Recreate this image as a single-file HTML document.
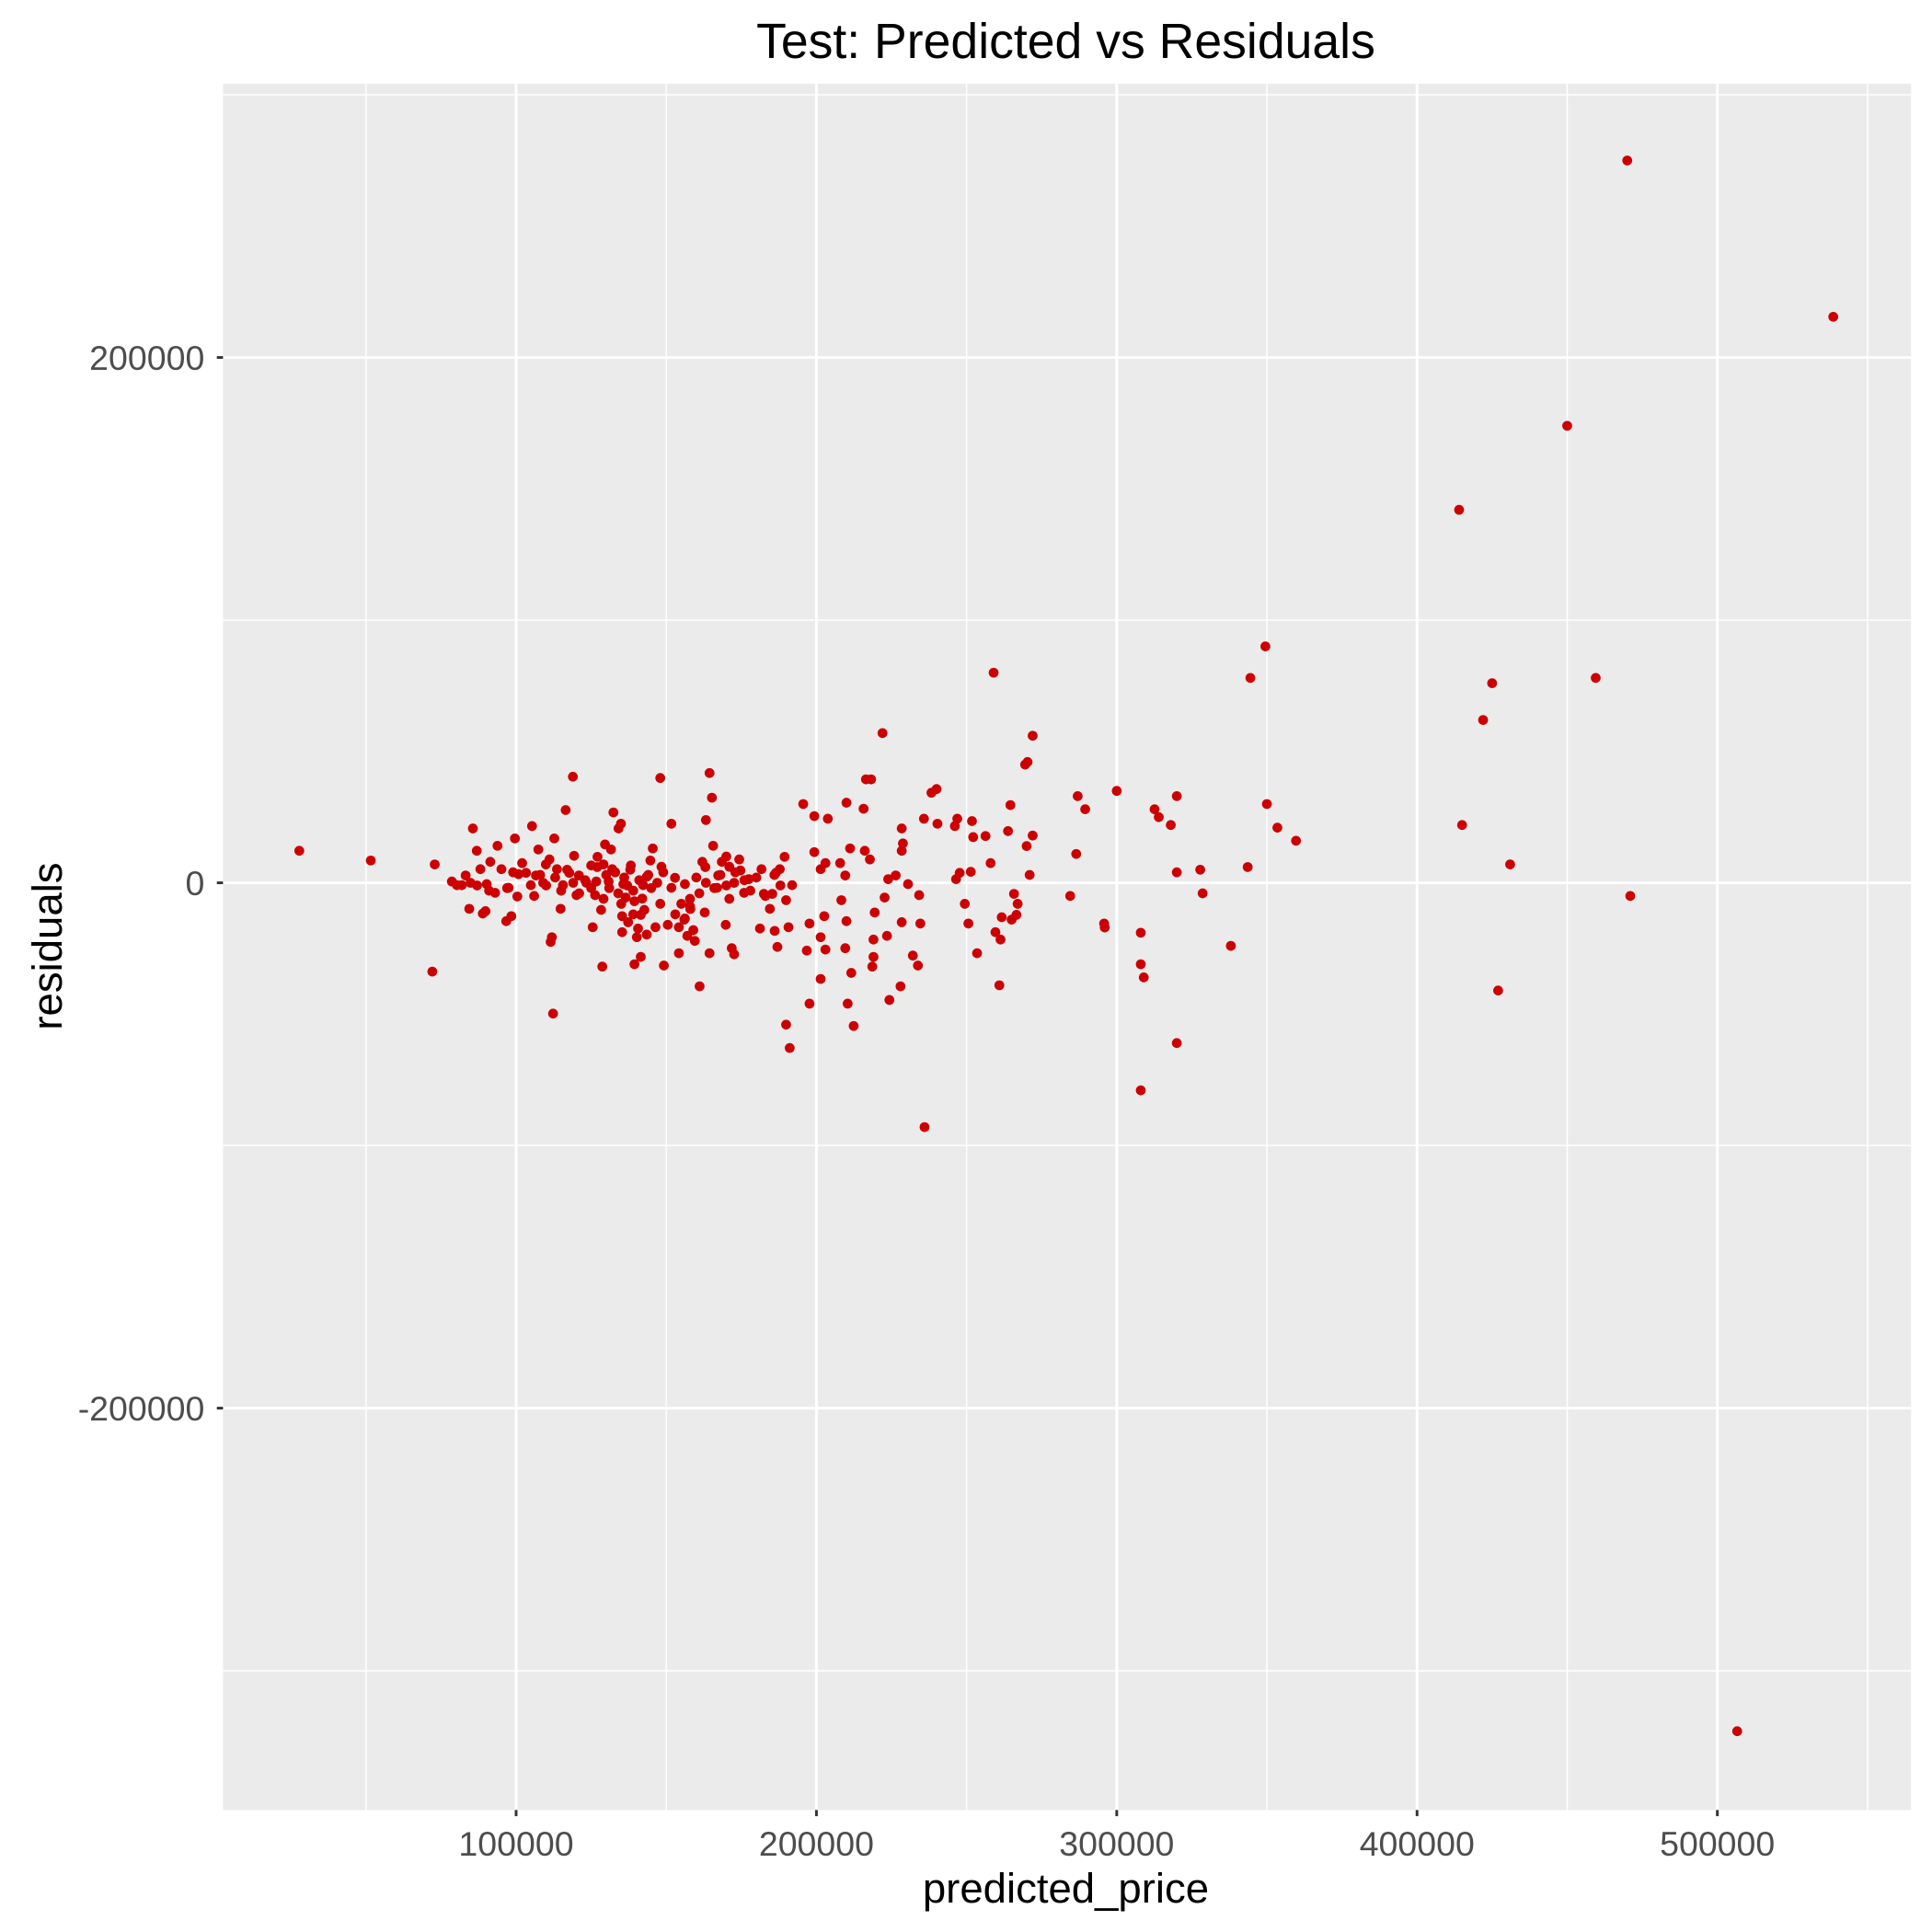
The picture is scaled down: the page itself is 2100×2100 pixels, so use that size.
<!DOCTYPE html>
<html><head><meta charset="utf-8"><style>html,body{margin:0;padding:0;background:#fff}svg{display:block}text{font-family:"Liberation Sans",Arial,sans-serif}</style></head>
<body>
<svg id="chart" width="2100" height="2100" viewBox="0 0 1568 1568" xmlns="http://www.w3.org/2000/svg">
<rect width="1568" height="1568" fill="#fff"/>
<text x="865" y="47" font-size="40" text-anchor="middle" fill="#000">Test: Predicted vs Residuals</text>
<rect x="181" y="68" width="1370" height="1401" fill="#ebebeb"/>
<g id="grid"></g><g id="points"></g><g id="axes"></g>
<text x="865" y="1544" font-size="34" text-anchor="middle" fill="#000">predicted_price</text>
<text transform="translate(50,768) rotate(-90)" font-size="34" text-anchor="middle" fill="#000">residuals</text>
</svg>
<script>
// values in thousands
const xTicks=[100,200,300,400,500];
const xMinor=[50,150,250,350,450,550];
const yTicks=[-200,0,200];
const yMinor=[-300,-100,100,300];
const predicted=[470,538.6,450,414,349.5,344.5,425,459.5,422,259,222,272,350,353.5,359.7,415,431,471,427,506.6,320,308,236,338,343.6,327.8,328.6,320,320,300,287,289.5,286.5,284.5,295.8,296,308,308,309,312.6,314,318,
272,270,271,269.5,270.3,264.6,263.8,267,266.6,265,265.8,258,256.3,251.8,252.2,246.9,246.1,251.4,247.7,246.5,249.4,250.6,253.5,260.9,261.7,261.3,259.6,
238.3,240,240.3,235.8,234.2,234.6,233.8,232.1,228.4,228,224.3,228.4,228.8,228.4,230.5,226.4,223.9,222.7,223.5,219,218.6,219,219.4,218.2,216.5,215.7,216.1,217.8,211.2,212.4,210.4,211.6,209.6,210,208.3,209.6,207.9,210,203.8,203,201.4,202.6,203,201.4,201.4,197.7,197.7,191.1,189.9,190.7,189.9,191.9,199.3,199.3,195.6,196.8,189.4,187.8,186.5,185.3,186.1,187,181.2,184.5,182.5,181.7,177.5,175.9,174.3,174.7,172.6,171,169.8,172.6,171.8,171,168.5,167.3,166.9,165.6,165.2,164.4,163.2,162,163.2,162.8,164.4,159.5,161.1,157.9,157.9,156.2,156.2,157,154.2,154.2,151.7,152.9,151.7,150.5,149.2,148,148.4,148,146.4,144.7,143.5,142.3,141.5,140.6,139.4,138.2,136.5,135.7,135.3,134.9,134.1,132.4,132,131.6,130.8,129.6,129.1,129.1,128.7,128.3,127.1,126.7,126.3,125,125.5,123.4,120.9,120.1,119.3,117.7,118.9,116.5,115.6,114.8,113.6,112.7,111.1,111.9,111.5,112.3,109.9,109,107.4,106.6,105.3,104.9,103.3,102,100.8,100.4,99.6,98.4,97.5,96.7,95.1,93.8,93,91.4,90.2,89.8,88.9,88.1,86.9,85.6,84.8,84.4,83.2,81.9,80.3,78.6,72.9,72.1,51.6,27.8,137.3,140.2,142.7,141.5,139.4,143.5,145.5,135.3,
130,131,133,134,136,137,138,139,141,142,144,145,147,149,153,155,158,160,161,163,166,168,170,173,176,178,180,183,186,188,113,115,117,119,121,123,125,127,106,108,110,97,99,87,91,156,159,170,135,139];
const residuals=[275,215.5,174,142,90,78,76,78,62,80,57,56,30,21,16,22,7,-5,-41,-323,-61,-79,-93,-24,6,5,-4,4,33,35,33,28,11,-5,-15.5,-17,-19,-31,-36,28,25,22,
18,14,3,45,46,29.6,19.7,-8,-12.2,-14,-4.2,7.5,17.8,23.5,17.4,24.4,21.6,4.2,3.8,1.4,-8,-15.5,-26.8,-39,-13.1,-21.6,-18.8,
34.3,35.7,22.5,24.4,-4.7,-15.5,-31.5,-27.7,-15,-39.4,-44.6,12.2,15,20.7,-0.5,2.8,1.4,-5.6,-20.2,-21.6,-31.9,-28.2,-11.3,39.4,39.4,28.2,12.2,8.9,13.1,-54.5,-46,-34.3,-24.9,-14.6,-6.6,2.8,7.5,30.5,24.4,7.5,5.2,-12.7,-25.4,-36.6,-20.7,-15.5,-46,-62.9,-54,-16.9,-6.6,-0.9,11.7,25.4,30,-25.8,9.9,5.2,3.8,-4.2,-18.3,-24.4,-17.4,-9.9,-4.2,5.2,1.4,-3.8,8.9,4.7,0,-6.1,-16,-27.2,-24.9,6.1,8,2.8,-1.9,14.1,32.4,41.8,23.9,8,0,-11.3,-26.8,-22.1,-39.4,-8.9,-6.1,-0.5,-13.6,-20.2,-16.9,-26.8,22.5,1.9,-1.9,-16,-31.5,39.9,6.1,-8,-16.9,8.5,2.3,-0.9,-12.2,-17.4,-7,6.6,-5.6,-0.5,-12.7,22.5,20.7,26.8,5.2,12.7,0.5,14.6,7,-6.1,-31.9,-10.3,9.9,0.5,-4.7,6.6,-16.9,0,2.8,-4.7,10.3,3.8,40.4,27.7,-0.9,-9.9,5.2,16.9,8.9,-20.7,-22.5,-49.8,7,0,12.7,2.8,21.6,-0.9,3.8,7.5,3.3,-5.2,16.9,-12.7,-1.9,-14.6,5.2,14.1,-3.8,8,-0.5,-10.8,-11.7,5.2,12.2,20.7,0,-9.9,2.8,-0.9,-0.9,0.5,7,-33.8,8.5,12.2,-15,-20.7,-10.3,-28.2,-31,-19.7,13.1,-18.8,
3,-2,4,-4,2,-1,5,-3,1,-6,3,-2,0,4,-12,-8,-10,2,-4,6,-2,3,-1,4,1,-3,2,-5,3,-1,2,-3,5,0,-4,1,-2,6,-5,3,-1,-2,4,-1,-3,-14,-18,10,-8,-12];
const NS="http://www.w3.org/2000/svg";
const X0=181,X1=1551,Y0=68,Y1=1469;
const xMin=2.4,xMax=564.5,yMin=-353,yMax=304.2;
function sx(v){return X0+(v-xMin)/(xMax-xMin)*(X1-X0);}
function sy(v){return Y1-(v-yMin)/(yMax-yMin)*(Y1-Y0);}
function mk(tag,attrs,parent){const e=document.createElementNS(NS,tag);for(const k in attrs)e.setAttribute(k,attrs[k]);parent.appendChild(e);return e;}
const grid=document.getElementById('grid'),pts=document.getElementById('points'),axes=document.getElementById('axes');
xMinor.forEach(v=>{const l=mk('line',{x1:sx(v),x2:sx(v),y1:Y0,y2:Y1,stroke:'#fff','stroke-width':1.1},grid);

});
yMinor.forEach(v=>{const l=mk('line',{x1:X0,x2:X1,y1:sy(v),y2:sy(v),stroke:'#fff','stroke-width':1.1},grid);

});
xTicks.forEach(v=>{const l=mk('line',{x1:sx(v),x2:sx(v),y1:Y0,y2:Y1,stroke:'#fff','stroke-width':2.2},grid);


const t=mk('line',{x1:sx(v),x2:sx(v),y1:Y1,y2:Y1+5,stroke:'#333','stroke-width':2.2},axes);


const tx=mk('text',{x:sx(v),y:Y1+37,'font-size':28,'text-anchor':'middle',fill:'#4d4d4d'},axes);tx.textContent=String(v*1000);

});
yTicks.forEach(v=>{const l=mk('line',{x1:X0,x2:X1,y1:sy(v),y2:sy(v),stroke:'#fff','stroke-width':2.2},grid);


const t=mk('line',{x1:X0-5,x2:X0,y1:sy(v),y2:sy(v),stroke:'#333','stroke-width':2.2},axes);


const tx=mk('text',{x:X0-15,y:sy(v)+10,'font-size':28,'text-anchor':'end',fill:'#4d4d4d'},axes);tx.textContent=String(v*1000);

});
predicted.forEach((p,i)=>{const c=mk('circle',{cx:sx(p),cy:sy(residuals[i]),r:4,fill:'#cc0000'},pts);

});
</script>
</body></html>
